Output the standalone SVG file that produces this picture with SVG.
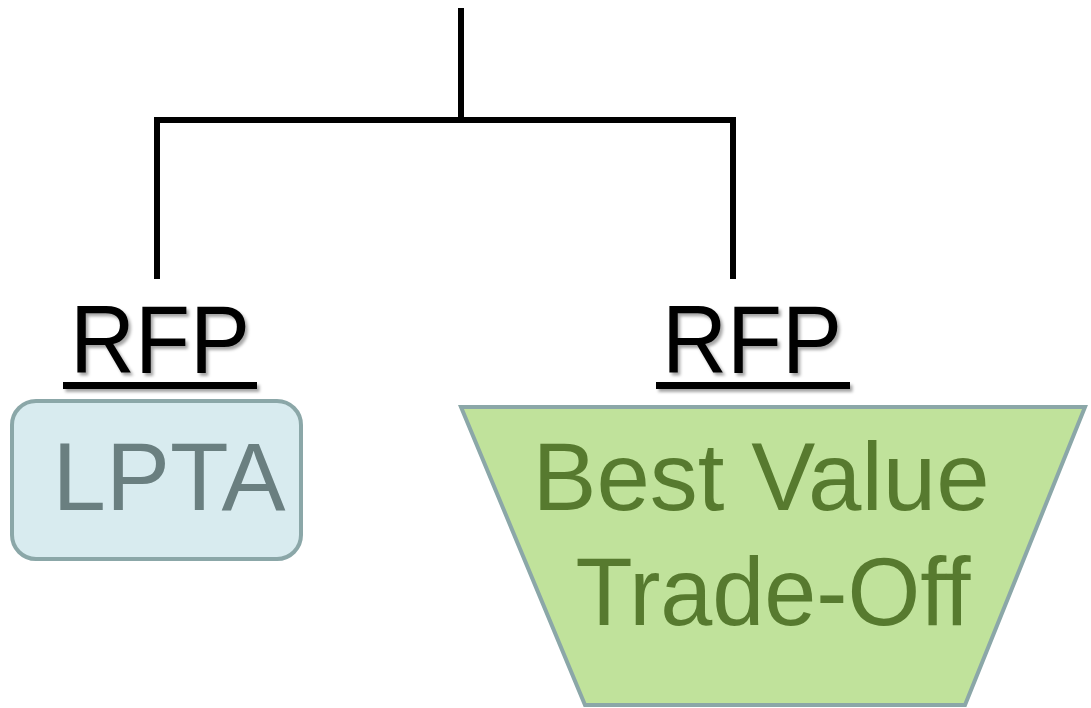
<svg xmlns="http://www.w3.org/2000/svg" width="1091" height="708" viewBox="0 0 1091 708">
<defs>
<filter id="sh" x="-10%" y="-10%" width="130%" height="140%">
<feDropShadow dx="2.5" dy="3" stdDeviation="1.5" flood-color="#000" flood-opacity="0.35"/>
</filter>
</defs>
<style>
.conn{fill:none;stroke:#000;stroke-width:6;stroke-linecap:butt}
.rfp{font-family:"Liberation Sans",Arial,sans-serif;font-size:96px;fill:#000;text-anchor:middle}
.big{font-family:"Liberation Sans",Arial,sans-serif;font-size:96px;text-anchor:middle}
.shape{stroke:#8ba7a8;stroke-width:4}
</style>
<rect width="1091" height="708" fill="#fff"/>
<g id="connectors">
<line class="conn" x1="461" y1="8" x2="461" y2="120"/>
<polyline class="conn" points="157,279 157,120 733,120 733,279"/>
</g>
<g id="rfp-left" filter="url(#sh)">
<text class="rfp" x="160" y="373" textLength="180" lengthAdjust="spacingAndGlyphs">RFP</text>
<rect x="63" y="382" width="194" height="7" fill="#000"/>
</g>
<g id="rfp-right" filter="url(#sh)">
<text class="rfp" x="752" y="373" textLength="180" lengthAdjust="spacingAndGlyphs">RFP</text>
<rect x="656" y="382" width="194" height="7" fill="#000"/>
</g>
<g id="lpta">
<rect class="shape" x="12" y="401" width="289" height="158" rx="24" ry="24" fill="#d8ebef"/>
<text class="big" x="169" y="510" fill="#6a7f80">LPTA</text>
</g>
<g id="best-value">
<polygon class="shape" points="461,407 1085,407 965,705 585,705" fill="#c0e29b"/>
<text class="big" x="761" y="510" fill="#577a2f">Best Value</text>
<text class="big" x="773" y="625" fill="#577a2f" textLength="395" lengthAdjust="spacingAndGlyphs">Trade-Off</text>
</g>
</svg>
